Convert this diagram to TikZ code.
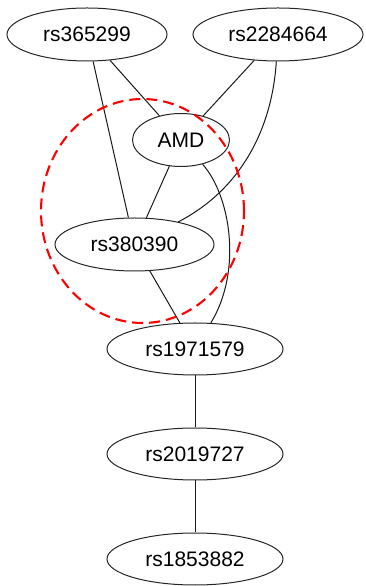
\documentclass[tikz,border=0pt]{standalone}
\usepackage{fontspec}
\setmainfont{Liberation Sans}
\usepackage{tikz}
\usetikzlibrary{shapes.geometric}

\begin{document}
\begin{tikzpicture}[
    x=1pt, y=1pt,
    snp/.style = {
        draw=black!85, ellipse, line width=1pt, inner sep=0pt,
        minimum height=53pt,
        font=\fontsize{21}{25}\selectfont
    },
    link/.style = {draw=black!90, line width=1pt},
    ring/.style = {draw=red, line width=2.1pt, dash pattern=on 11pt off 6pt},
]
\useasboundingbox (0,0) rectangle (366,586);

%% ── Top row ─────────────────────────────────────────────────────────
\node[snp, minimum width=160pt] (rs365299)  at (87, 551.5)  {rs365299};
\node[snp, minimum width=170pt] (rs2284664) at (278, 551.5) {rs2284664};

%% ── Cluster round AMD ───────────────────────────────────────────────
\node[snp, minimum width=97pt]  (amd)      at (181, 446)   {AMD};
\node[snp, minimum width=159pt] (rs380390) at (134.5, 341.5) {rs380390};

%% ── Chain below ─────────────────────────────────────────────────────
\node[snp, minimum width=176pt, minimum height=52pt] (rs1971579) at (195, 237) {rs1971579};
\node[snp, minimum width=176pt, minimum height=52pt] (rs2019727) at (195, 132) {rs2019727};
\node[snp, minimum width=176pt, minimum height=52pt] (rs1853882) at (195, 27)  {rs1853882};

%% ── Edges ───────────────────────────────────────────────────────────
\draw[link] (rs365299) -- (amd);
\draw[link] (rs365299) -- (rs380390);
\draw[link] (rs2284664) -- (amd);
\draw[link] (rs2284664) .. controls (272,456) and (240,396) .. (rs380390);
\draw[link] (amd) -- (rs380390);
\draw[link] (amd) .. controls (230,391) and (243,316) .. (rs1971579);
\draw[link] (rs380390) -- (rs1971579);
\draw[link] (rs1971579) -- (rs2019727);
\draw[link] (rs2019727) -- (rs1853882);

%% dashed mark
\draw[ring] (142.5, 375) ellipse [x radius=101.5, y radius=112];

\end{tikzpicture}
\end{document}
